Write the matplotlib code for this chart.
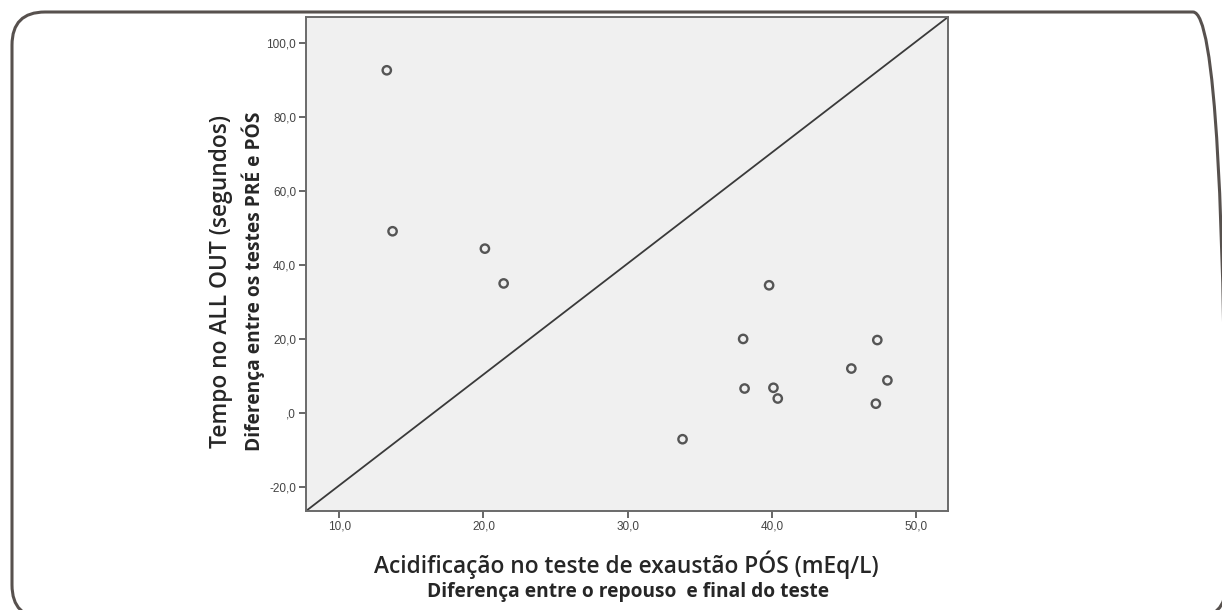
import matplotlib
matplotlib.use('Agg')
import matplotlib.pyplot as plt
import matplotlib.ticker as mticker
from matplotlib.patches import FancyBboxPatch

# data
acidificacao = [13.3, 13.7, 20.1, 21.4, 39.8, 38.0, 38.1, 40.1, 40.4, 33.8, 47.3, 45.5, 48.0, 47.2]
tempo = [92.6, 49.1, 44.4, 35.0, 34.5, 20.0, 6.6, 6.8, 3.9, -7.1, 19.7, 12.0, 8.8, 2.5]
xticks = [10, 20, 30, 40, 50]
yticks = [-20, 0, 20, 40, 60, 80, 100]

W, H = 1222, 610
fig = plt.figure(figsize=(W / 100, H / 100), dpi=100)

# overlay in pixel units (y up) for the rounded frame
bg = fig.add_axes([0, 0, 1, 1])
bg.set_xlim(0, W)
bg.set_ylim(0, H)
bg.axis('off')
frame = FancyBboxPatch((12, H - 618), 1226 - 12, 618 - 12,
                       boxstyle='round,pad=0,rounding_size=33', mutation_aspect=1,
                       fill=False, edgecolor='#57514e', linewidth=2.2, clip_on=False)
bg.add_patch(frame)

ax = fig.add_axes([306 / W, (H - 511) / H, (948 - 306) / W, (511 - 17) / H])
ax.set_facecolor('#f0f0f0')
ax.set_xlim(7.7, 52.2)
ax.set_ylim(-26.5, 107.0)

# corner to corner reference line
ax.plot([0, 1], [0, 1], transform=ax.transAxes, color='#3a3a3a', lw=1.3)
ax.scatter(acidificacao, tempo, s=36, facecolors='none', edgecolors='#555555', linewidths=1.7, zorder=3)

def fmt(v, pos):
    s = '%.1f' % v
    s = s.replace('.', ',')
    if s == '0,0':
        s = ',0'
    return s

ax.set_xticks(xticks)
ax.set_yticks(yticks)
ax.xaxis.set_major_formatter(mticker.FuncFormatter(fmt))
ax.yaxis.set_major_formatter(mticker.FuncFormatter(fmt))
ax.tick_params(direction='out', length=5, width=1.4, color='#666666',
               labelsize=8.5, labelcolor='#444444', pad=2)
for lab in ax.get_xticklabels() + ax.get_yticklabels():
    lab.set_family('Liberation Sans')
for sp in ax.spines.values():
    sp.set_color('#6a6a6a')
    sp.set_linewidth(1.4)

fnt = 'Open Sans'
fig.text(626 / W, 1 - 565 / H, 'Acidificação no teste de exaustão PÓS (mEq/L)',
         ha='center', va='center', fontsize=16.4, family=fnt, weight='semibold', color='#262626')
fig.text(628 / W, 1 - 592 / H, 'Diferença entre o repouso  e final do teste',
         ha='center', va='center', fontsize=13.8, family=fnt, weight='bold', color='#262626')
fig.text(221 / W, 1 - 281 / H, 'Tempo no ALL OUT (segundos)',
         ha='center', va='center', rotation=90, fontsize=16.4, family=fnt, weight='semibold', color='#262626')
fig.text(253 / W, 1 - 281 / H, 'Diferença entre os testes PRÉ e PÓS',
         ha='center', va='center', rotation=90, fontsize=13.8, family=fnt, weight='bold', color='#262626')

fig.savefig('out.png', dpi=100)
